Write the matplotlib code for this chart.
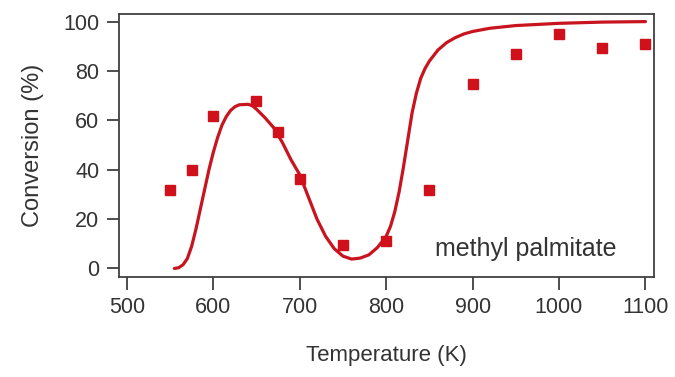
import matplotlib
matplotlib.use('Agg')
import matplotlib.pyplot as plt

plt.rcParams['font.family'] = ['Liberation Sans', 'DejaVu Sans']

# measured conversion (squares)
temp_exp = [550, 575, 600, 650, 675, 700, 750, 800, 850, 900, 950, 1000, 1050, 1100]
conv_exp = [31.7, 39.9, 61.8, 67.8, 55.4, 36.2, 9.7, 11.2, 31.7, 74.7, 86.8, 95.0, 89.5, 90.8]

# model curve
temp_model = [555, 560, 565, 570, 575, 580, 585, 590, 595, 600, 605, 610, 615, 620,
              625, 630, 640, 645, 650, 660, 670, 680, 690, 700, 710, 720, 730, 740,
              750, 760, 770, 780, 790, 800, 805, 810, 815, 820, 825, 830, 835, 840,
              845, 850, 860, 870, 880, 890, 900, 920, 950, 1000, 1050, 1100]
conv_model = [0.0, 0.3, 1.5, 4.0, 9.0, 16.0, 24.0, 32.0, 40.0, 47.0, 53.0, 58.0, 61.5, 64.0,
              65.5, 66.3, 66.5, 66.0, 64.5, 61.0, 57.0, 51.0, 44.0, 38.0, 29.0, 20.0, 13.0, 8.0,
              5.0, 3.8, 4.2, 5.5, 8.5, 13.0, 17.0, 23.0, 31.0, 41.0, 52.0, 63.0, 71.0, 77.0,
              81.0, 84.0, 88.5, 91.5, 93.5, 95.0, 96.0, 97.3, 98.4, 99.3, 99.8, 100.0]

red = '#d0101a'
txt = '#333333'

fig = plt.figure(figsize=(6.75, 3.77), dpi=100)
ax = fig.add_axes([0.176, 0.265, 0.793, 0.698])

ax.plot(temp_model, conv_model, '-', color='#c8141e', lw=2.3, solid_capstyle='round')
ax.plot(temp_exp, conv_exp, 's', color=red, ms=6.5, mec=red, ls='none')

ax.set_xlim(490.7, 1110)
ax.set_ylim(-3.5, 103.1)
ax.set_xticks([500, 600, 700, 800, 900, 1000, 1100])
ax.set_yticks([0, 20, 40, 60, 80, 100])

for s in ax.spines.values():
    s.set_color('#404040')
    s.set_linewidth(1.3)
ax.tick_params(direction='out', length=9, width=1.3, color='#404040',
               labelsize=15.5, labelcolor=txt, pad=5)

ax.set_xlabel('Temperature (K)', fontsize=16, color=txt, labelpad=20)
ax.set_ylabel('Conversion (%)', fontsize=17, color=txt, labelpad=14)

ax.text(962, 8, 'methyl palmitate', fontsize=18, color=txt,
        ha='center', va='center')

fig.savefig('out.png', dpi=100)
